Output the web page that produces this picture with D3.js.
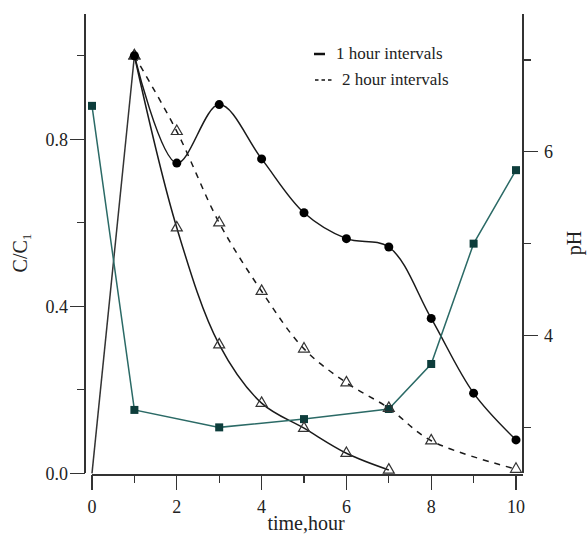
<!doctype html>
<html lang="en">
  <head>
    <meta charset="utf-8">
    <script src="https://cdn.jsdelivr.net/npm/d3@7"></script>
    <style>
body { margin: 0; background: #fff; }
svg text { font-family: "Liberation Serif", "Times New Roman", serif; fill: #222; }
.axis line, .axis path { stroke: #333; stroke-width: 1.3; fill: none; shape-rendering: crispEdges; }
.curve { fill: none; stroke: #1a1a1a; stroke-width: 1.5; }
.curve.dash { stroke-dasharray: 6,6; }
.ph-line { fill: none; stroke: #2b6a66; stroke-width: 1.5; }
    </style>
  </head>
  <body>
    <svg id="chart" width="588" height="535"></svg>
    <script>
//=============================== DATA ===================================
var riseHours   = [0, 1]
var riseRatio   = [0, 1.0]

var hours1h     = [1, 2, 3, 4, 5, 6, 7, 8, 9, 10]
var ratio1h     = [1.0, 0.743, 0.883, 0.753, 0.624, 0.562, 0.542, 0.371, 0.192, 0.08]

var hoursTriA   = [1, 2, 3, 4, 5, 6, 7]
var ratioTriA   = [1.0, 0.588, 0.308, 0.168, 0.108, 0.048, 0.008]

var hoursTriB   = [1, 2, 3, 4, 5, 6, 7, 8, 10]
var ratioTriB   = [1.0, 0.819, 0.60, 0.436, 0.298, 0.217, 0.156, 0.078, 0.01]

var hoursPH     = [0, 1, 3, 5, 7, 8, 9, 10]
var phValues    = [6.5, 3.19, 3.0, 3.09, 3.2, 3.69, 5.0, 5.8]

var xTicks      = [0, 1, 2, 3, 4, 5, 6, 7, 8, 9, 10]
var xLabels     = [0, 2, 4, 6, 8, 10]
var ratioTicks  = [0, 0.2, 0.4, 0.6, 0.8, 1.0]
var ratioLabels = [0, 0.4, 0.8]
var phTicks     = [3, 4, 5, 6, 7]
var phLabels    = [4, 6]

var legendItems = ['1 hour intervals', '2 hour intervals']

//=============================== SCALES =================================
var svg = d3.select('#chart')
var x   = d3.scaleLinear().domain([0, 10]).range([92, 516])
var yC  = d3.scaleLinear().domain([0, 1.1]).range([473.3, 14])
var yPH = d3.scaleLinear().domain([2.5, 7.5]).range([473.3, 14])

var zip = (a, b) => a.map((v, i) => [v, b[i]])

//=============================== AXES ===================================
var fmt1 = d3.format('.1f')

// left axis (C/C1)
var gl = svg.append('g').attr('class', 'axis').attr('transform', 'translate(85,0)')
gl.append('line').attr('y1', yC(1.1)).attr('y2', yC(0))
gl.selectAll('line.tick').data(ratioTicks).enter().append('line')
	.attr('class', 'tick')
	.attr('x1', d => ratioLabels.some(v => Math.abs(v - d) < 1e-9) ? -15 : -8).attr('x2', 0)
	.attr('y1', d => yC(d)).attr('y2', d => yC(d))
gl.selectAll('text').data(ratioLabels).enter().append('text')
	.attr('x', -17).attr('y', d => yC(d)).attr('dy', '0.35em')
	.attr('text-anchor', 'end').style('font-size', '18px')
	.text(d => fmt1(d))

// bottom axis (time)
var gb = svg.append('g').attr('class', 'axis').attr('transform', 'translate(0,475)')
gb.append('line').attr('x1', x(0)).attr('x2', 523)
gb.selectAll('line.tick').data(xTicks).enter().append('line')
	.attr('class', 'tick')
	.attr('x1', d => x(d)).attr('x2', d => x(d))
	.attr('y1', 0).attr('y2', d => d % 2 === 0 ? 15 : 8)
gb.selectAll('text').data(xLabels).enter().append('text')
	.attr('x', d => x(d)).attr('y', 38)
	.attr('text-anchor', 'middle').style('font-size', '18px')
	.text(d => d)

// right axis (pH)
var gr = svg.append('g').attr('class', 'axis').attr('transform', 'translate(523,0)')
gr.append('line').attr('y1', yPH(7.5)).attr('y2', yPH(2.5))
gr.selectAll('line.tick').data(phTicks).enter().append('line')
	.attr('class', 'tick')
	.attr('x1', 0).attr('x2', d => phLabels.includes(d) ? 15 : 8)
	.attr('y1', d => yPH(d)).attr('y2', d => yPH(d))
gr.selectAll('text').data(phLabels).enter().append('text')
	.attr('x', 21).attr('y', d => yPH(d)).attr('dy', '0.35em')
	.style('font-size', '18px')
	.text(d => d)

// axis titles
svg.append('text').attr('x', 306).attr('y', 530)
	.attr('text-anchor', 'middle').style('font-size', '20px')
	.text('time,hour')

var tC = svg.append('text').attr('transform', 'translate(27,253) rotate(-90)')
	.attr('text-anchor', 'middle').style('font-size', '20px')
tC.append('tspan').text('C/C')
tC.append('tspan').attr('dy', 4).style('font-size', '13px').text('1')

svg.append('text').attr('transform', 'translate(581,243) rotate(-90)')
	.attr('text-anchor', 'middle').style('font-size', '20px')
	.text('pH')

//=============================== CURVES =================================
var lineC = d3.line().x(d => x(d[0])).y(d => yC(d[1]))

svg.append('path').attr('class', 'curve')
	.attr('d', lineC.curve(d3.curveLinear)(zip(riseHours, riseRatio)))
	.style('stroke', '#333')

svg.append('path').attr('class', 'curve')
	.attr('d', lineC.curve(d3.curveCatmullRom.alpha(0.5))(zip(hours1h, ratio1h)))

svg.append('path').attr('class', 'curve')
	.attr('d', lineC.curve(d3.curveCatmullRom.alpha(0.5))(zip(hoursTriA, ratioTriA)))

svg.append('path').attr('class', 'curve dash')
	.attr('d', lineC.curve(d3.curveCatmullRom.alpha(0.5))(zip(hoursTriB, ratioTriB)))

// pH line
var linePH = d3.line().x(d => x(d[0])).y(d => yPH(d[1]))
svg.append('path').attr('class', 'ph-line').attr('d', linePH(zip(hoursPH, phValues)))

svg.selectAll('rect.ph').data(zip(hoursPH, phValues)).enter().append('rect')
	.attr('class', 'ph')
	.attr('x', d => x(d[0]) - 4).attr('y', d => yPH(d[1]) - 4)
	.attr('width', 8).attr('height', 8)
	.style('fill', '#0d3d3b')

//=============================== MARKERS ================================
var tri = d3.symbol().type(d3.symbolTriangle).size(52)
var triPts = zip(hoursTriA, ratioTriA).concat(zip(hoursTriB, ratioTriB))
svg.selectAll('path.tri').data(triPts).enter().append('path')
	.attr('class', 'tri')
	.attr('d', tri)
	.attr('transform', d => 'translate(' + x(d[0]) + ',' + yC(d[1]) + ')')
	.style('fill', 'none').style('stroke', '#333').style('stroke-width', 1.2)

svg.selectAll('circle.c1').data(zip(hours1h, ratio1h)).enter().append('circle')
	.attr('class', 'c1')
	.attr('cx', d => x(d[0])).attr('cy', d => yC(d[1])).attr('r', 4.5)
	.style('fill', '#000')

//=============================== LEGEND =================================
var lg = svg.append('g').attr('transform', 'translate(314,0)')
lg.append('line').attr('x1', 0).attr('x2', 11).attr('y1', 54).attr('y2', 54)
	.style('stroke', '#111').style('stroke-width', 2.5)
lg.append('line').attr('x1', 1).attr('x2', 18).attr('y1', 80).attr('y2', 80)
	.style('stroke', '#111').style('stroke-width', 1.3).style('stroke-dasharray', '3.5,3')
lg.selectAll('text').data(legendItems).enter().append('text')
	.attr('x', (d, i) => i === 0 ? 22 : 28)
	.attr('y', (d, i) => i === 0 ? 59 : 85)
	.style('font-size', '17px')
	.text(d => d)
    </script>
  </body>
</html>
